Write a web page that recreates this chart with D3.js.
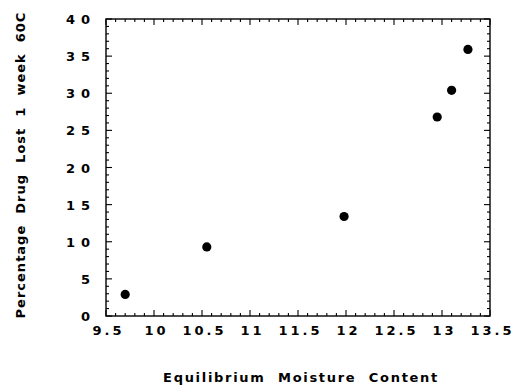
<!DOCTYPE html>
<html>
<head>
<meta charset="utf-8">
<script src="https://cdn.jsdelivr.net/npm/d3@7"></script>
<style>
  html, body { margin: 0; padding: 0; background: #fff; }
  svg text { font-family: "DejaVu Sans", "Liberation Sans", Arial, sans-serif; font-weight: bold; fill: #000; }
</style>
</head>
<body>
<svg id="chart" width="515" height="386"></svg>
<script>
// Equilibrium moisture content vs percentage of drug lost after 1 week at 60C
const moisture = [9.70, 10.55, 11.98, 12.95, 13.10, 13.27];
const drugLost = [2.9, 9.3, 13.4, 26.8, 30.4, 35.9];
const xTicks = [9.5, 10, 10.5, 11, 11.5, 12, 12.5, 13, 13.5];
const xTickLabels = ["9.5", "10", "10.5", "11", "11.5", "12", "12.5", "13", "13.5"];
const yTicks = [0, 5, 10, 15, 20, 25, 30, 35, 40];
const yTickLabels = ["0", "5", "10", "15", "20", "25", "30", "35", "40"];

const svg = d3.select("#chart");
const plotL = 106, plotR = 490, plotT = 19, plotB = 316;

const x = d3.scaleLinear().domain([9.5, 13.5]).range([plotL, plotR]);
const y = d3.scaleLinear().domain([0, 40]).range([plotB, plotT]);

// Frame
svg.append("rect")
  .attr("x", plotL).attr("y", plotT)
  .attr("width", plotR - plotL).attr("height", plotB - plotT)
  .attr("fill", "none").attr("stroke", "#000").attr("stroke-width", 1.4);

// Major and minor ticks, pointing into the plot on all four sides
const xMinor = d3.range(95, 136).map(v => v / 10);
const yMinor = d3.range(0, 41);
const tickG = svg.append("g").attr("stroke", "#000").attr("stroke-width", 1.1);

xMinor.forEach(v => {
  const major = Math.abs(v * 2 - Math.round(v * 2)) < 1e-6;
  const len = major ? 6 : 3;
  tickG.append("line").attr("x1", x(v)).attr("x2", x(v)).attr("y1", plotB).attr("y2", plotB - len);
  tickG.append("line").attr("x1", x(v)).attr("x2", x(v)).attr("y1", plotT).attr("y2", plotT + len);
});
yMinor.forEach(v => {
  const major = v % 5 === 0;
  const len = major ? 6 : 3;
  tickG.append("line").attr("y1", y(v)).attr("y2", y(v)).attr("x1", plotL).attr("x2", plotL + len);
  tickG.append("line").attr("y1", y(v)).attr("y2", y(v)).attr("x1", plotR).attr("x2", plotR - len);
});

// Tick labels (letter-spacing trails the last glyph, so offsets compensate)
svg.append("g").selectAll("text").data(xTicks).join("text")
  .attr("x", d => x(d) + 2.5).attr("y", 335)
  .attr("text-anchor", "middle")
  .attr("font-size", 13)
  .style("letter-spacing", "3px")
  .text((d, i) => xTickLabels[i]);

svg.append("g").selectAll("text").data(yTicks).join("text")
  .attr("x", 96).attr("y", d => y(d) + 5)
  .attr("text-anchor", "end")
  .attr("font-size", 13)
  .style("letter-spacing", "6px")
  .text((d, i) => yTickLabels[i]);

// Axis titles
svg.append("text")
  .attr("x", 301).attr("y", 382)
  .attr("text-anchor", "middle")
  .attr("font-size", 13)
  .style("letter-spacing", "1.7px")
  .style("white-space", "pre")
  .text("Equilibrium  Moisture  Content");

svg.append("text")
  .attr("transform", "translate(25,165) rotate(-90)")
  .attr("text-anchor", "middle")
  .attr("font-size", 13)
  .style("letter-spacing", "1px")
  .style("white-space", "pre")
  .text("Percentage  Drug  Lost  1  week  60C");

// Data points
svg.append("g").selectAll("circle").data(moisture).join("circle")
  .attr("cx", d => x(d))
  .attr("cy", (d, i) => y(drugLost[i]))
  .attr("r", 4.6)
  .attr("fill", "#000");
</script>
</body>
</html>
